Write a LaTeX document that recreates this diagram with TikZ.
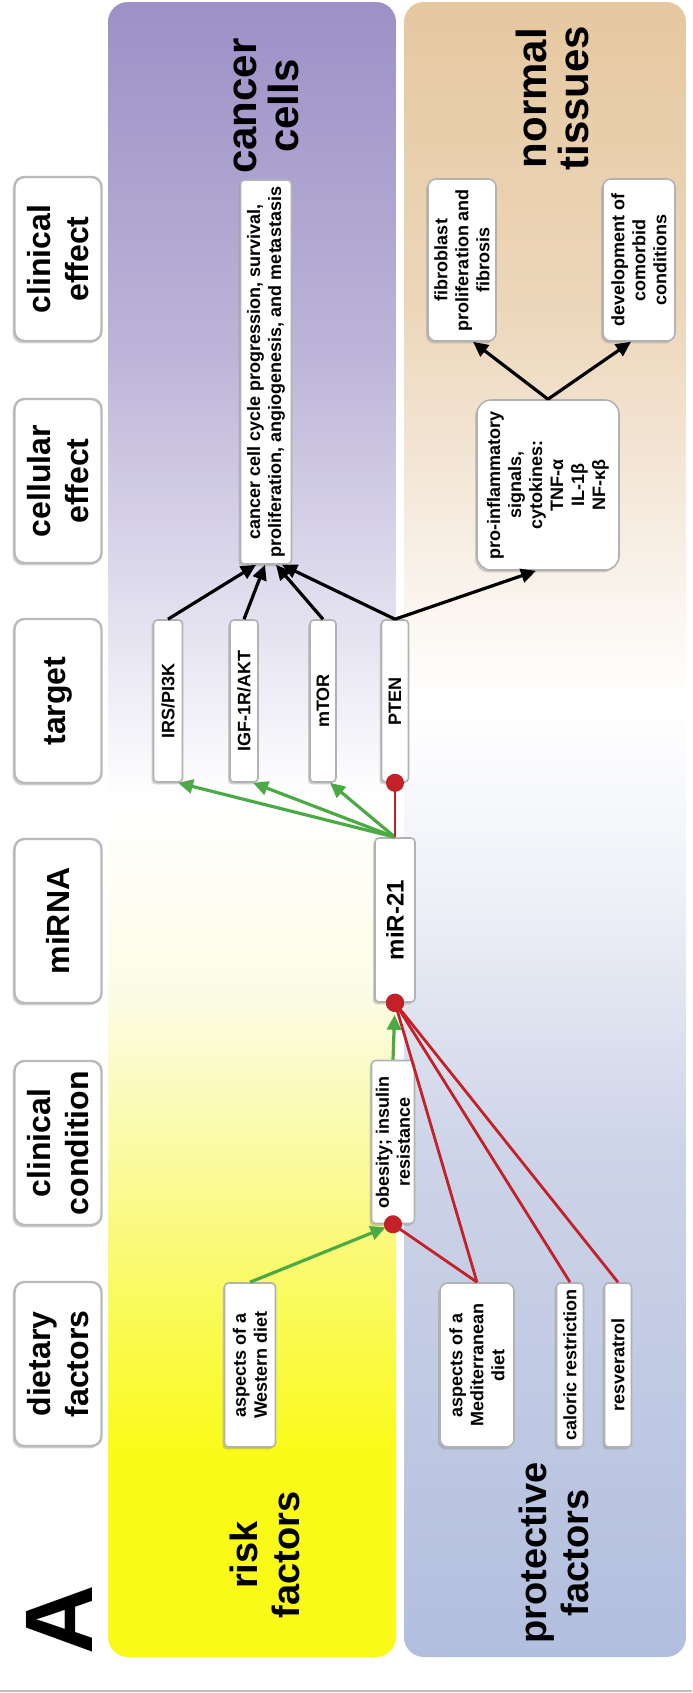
\documentclass[tikz,border=0pt]{standalone}
\usepackage{fontspec}
\setmainfont{Liberation Sans}
\usetikzlibrary{arrows.meta,shadows}

\definecolor{actgreen}{RGB}{76,170,70}
\definecolor{inhred}{RGB}{196,32,40}
\definecolor{purpA}{RGB}{156,144,198}
\definecolor{purpB}{RGB}{188,180,216}
\definecolor{purpC}{RGB}{228,225,240}
\definecolor{yelA}{RGB}{252,252,228}
\definecolor{yelB}{RGB}{250,250,140}
\definecolor{yelC}{RGB}{250,250,25}
\definecolor{tanA}{RGB}{229,200,160}
\definecolor{tanB}{RGB}{236,214,185}
\definecolor{tanC}{RGB}{246,236,224}
\definecolor{bluA}{RGB}{240,242,248}
\definecolor{bluB}{RGB}{205,212,232}
\definecolor{bluC}{RGB}{178,190,222}

\begin{document}
\begin{tikzpicture}[x=0.5pt, y=-0.5pt,
  shbox/.style={drop shadow={shadow xshift=-1pt, shadow yshift=-1.2pt, opacity=0.35}},
  hbox/.style={rotate=90, draw=gray!55, line width=1.2pt, fill=white, rounded corners=5pt,
    minimum width=82pt, minimum height=43.5pt, align=center,
    font=\fontsize{16}{19}\selectfont\bfseries, shbox},
  cbox/.style={rotate=90, draw=gray!60, line width=0.8pt, fill=white, rounded corners=2pt,
    inner sep=2pt, align=center, minimum width=82pt,
    font=\fontsize{9}{10.5}\selectfont\bfseries, shbox},
  lbl/.style={rotate=90, align=center, font=\fontsize{19}{21}\selectfont\bfseries},
  act/.style={draw=actgreen, line width=1.6pt, -{Triangle[length=7.5pt,width=7pt]}},
  inh/.style={draw=inhred, line width=1.4pt, -{Circle[length=9pt]}, shorten >=-4.5pt},
  eff/.style={draw=black, line width=1.6pt, -{Triangle[length=7.5pt,width=7pt]}}
]
\useasboundingbox (0,0) rectangle (692,1693);
\fill[white] (0,0) rectangle (692,1693);

% background columns
\begin{scope}
\clip[rounded corners=10pt] (108,2) rectangle (396,1657);
\shade[top color=purpA, bottom color=purpB] (108,0) rectangle (396,351);
\shade[top color=purpB, bottom color=purpC] (108,350) rectangle (396,621);
\shade[top color=purpC, bottom color=white] (108,620) rectangle (396,801);
\shade[top color=white, bottom color=yelA] (108,800) rectangle (396,1001);
\shade[top color=yelA, bottom color=yelB] (108,1000) rectangle (396,1201);
\shade[top color=yelB, bottom color=yelC] (108,1200) rectangle (396,1451);
\fill[yelC] (108,1450) rectangle (396,1660);
\end{scope}
\begin{scope}
\clip[rounded corners=10pt] (404,2) rectangle (686,1657);
\shade[top color=tanA, bottom color=tanB] (404,0) rectangle (686,301);
\shade[top color=tanB, bottom color=tanC] (404,300) rectangle (686,521);
\shade[top color=tanC, bottom color=white] (404,520) rectangle (686,701);
\shade[top color=white, bottom color=bluA] (404,700) rectangle (686,881);
\shade[top color=bluA, bottom color=bluB] (404,880) rectangle (686,1151);
\shade[top color=bluB, bottom color=bluC] (404,1150) rectangle (686,1660);
\end{scope}
\draw[gray!50, line width=0.6pt] (0,1691) -- (692,1691);

% column headers
\node[hbox] (hce) at (58,259) {clinical\\effect};
\node[hbox] (hcel) at (58,481) {cellular\\effect};
\node[hbox] (hcell) at (58,701) {target};
\node[hbox] (hmi) at (58,921) {miRNA};
\node[hbox] (hcc) at (58,1143) {clinical\\condition};
\node[hbox] (hdf) at (58,1364) {dietary\\factors};
\node[rotate=90, font=\fontsize{48}{48}\selectfont\bfseries] (lblA) at (59,1620) {A};

% region labels
\node[lbl, font=\fontsize{21}{21}\selectfont\bfseries] (lblcan) at (266,106) {cancer\\cells};
\node[lbl, font=\fontsize{21}{21}\selectfont\bfseries] (lblnor) at (552,98) {normal\\tissues};
\node[lbl] (lblrisk) at (265,1555) {risk\\factors};
\node[lbl] (lblprot) at (554,1553) {protective\\factors};

% boxes
\node[cbox, minimum width=192pt, minimum height=25.5pt] (cancer) at (266,372)
  {cancer cell cycle progression, survival,\\proliferation, angiogenesis, and metastasis};
\node[cbox, rounded corners=4pt, minimum width=81pt, minimum height=34pt] (fib) at (462,260)
  {fibroblast\\proliferation and\\fibrosis};
\node[cbox, rounded corners=4pt, minimum width=81pt, minimum height=36pt] (dev) at (639,260)
  {development of\\comorbid\\conditions};
\node[cbox, rounded corners=7pt, minimum width=85pt, minimum height=71pt] (pro) at (548,485)
  {pro-inflammatory\\signals,\\cytokines:\\TNF-α\\IL-1β\\NF-κβ};
\node[cbox, minimum width=81pt, minimum height=14.5pt] (irs) at (168,701) {IRS/PI3K};
\node[cbox, minimum width=81pt, minimum height=14pt] (igf) at (244,701) {IGF-1R/AKT};
\node[cbox, minimum width=81pt, minimum height=13pt] (mtor) at (323,701) {mTOR};
\node[cbox, minimum width=81pt, minimum height=13.5pt] (pten) at (395,701) {PTEN};
\node[cbox, minimum height=20pt, font=\fontsize{12}{14}\selectfont\bfseries] (mir) at (395,920) {miR-21};
\node[cbox, minimum width=81.5pt, minimum height=21.5pt] (obes) at (393,1142)
  {obesity; insulin\\resistance};
\node[cbox, minimum height=25.5pt] (west) at (250,1365) {aspects of a\\Western diet};
\node[cbox, rounded corners=4pt, minimum height=37pt] (med) at (477,1365)
  {aspects of a\\Mediterranean\\diet};
\node[cbox, minimum height=13.5pt] (cal) at (570,1365) {caloric restriction};
\node[cbox, minimum height=13.5pt] (res) at (618,1365) {resveratrol};

% connectors
\draw[act, shorten >=4pt] (west.east) -- (obes.west);
\draw[act, shorten >=6pt] (obes.east) -- (mir.west);
\draw[inh] (med.east) -- (obes.west);
\draw[inh] (med.east) -- (mir.west);
\draw[inh] (cal.east) -- (mir.west);
\draw[inh] (res.east) -- (mir.west);
\draw[act] (mir.east) -- ([xshift=5pt]irs.west);
\draw[act] (mir.east) -- ([xshift=4.5pt]igf.west);
\draw[act] (mir.east) -- ([xshift=3.5pt]mtor.west);
\draw[inh] (mir.east) -- (pten.west);
\draw[eff] (irs.east) -- ([xshift=-5pt]cancer.west);
\draw[eff] (igf.east) -- ([xshift=-0.5pt]cancer.west);
\draw[eff] (mtor.east) -- ([xshift=5pt]cancer.west);
\draw[eff] (pten.east) -- ([xshift=8pt]cancer.west);
\draw[eff] (pten.east) -- ([xshift=-6pt]pro.west);
\draw[eff] (pro.east) -- ([xshift=5.5pt]fib.west);
\draw[eff] (pro.east) -- ([xshift=-4pt]dev.west);
\end{tikzpicture}
\end{document}
